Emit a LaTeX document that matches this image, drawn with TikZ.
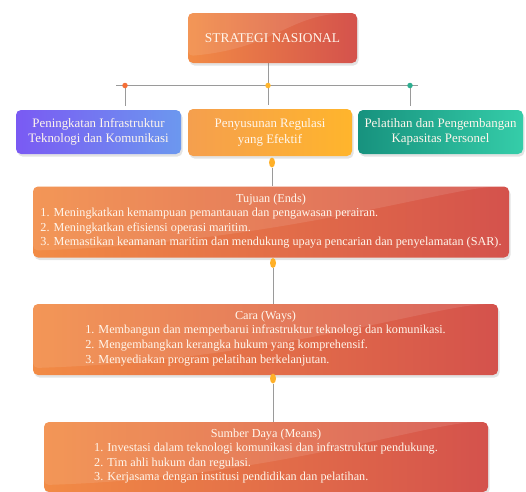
\documentclass[tikz,border=0pt]{standalone}
\usepackage{fontspec}
\setmainfont{Liberation Serif}
\usetikzlibrary{arrows.meta, positioning, shapes.geometric, calc, shadows, backgrounds}

\definecolor{orgL}{HTML}{F28B45}
\definecolor{orgR}{HTML}{D4524C}
\definecolor{purL}{HTML}{7A5AF3}
\definecolor{purR}{HTML}{6C98EF}
\definecolor{ambL}{HTML}{F59F4E}
\definecolor{ambR}{HTML}{FFB52C}
\definecolor{tealL}{HTML}{17927E}
\definecolor{tealR}{HTML}{35CDA9}
\definecolor{linkgray}{HTML}{9A9A9A}
\definecolor{paper}{HTML}{FFF6EC}

\begin{document}
\begin{tikzpicture}[
    x=1pt, y=-1pt,
    box/.style={rounded corners=5pt, text=paper, inner sep=3pt,
                align=center, font=\fontsize{12.9}{15.5}\selectfont,
                drop shadow={opacity=0.22, shadow xshift=1.5pt,
                             shadow yshift=-2.5pt}},
    gloss/.style={path picture={
        \fill[white, fill opacity=0.10]
          (path picture bounding box.north west)
          -- ([yshift=7pt]path picture bounding box.south west)
          .. controls ($(path picture bounding box.south)+(0,14pt)$)
          and ($(path picture bounding box.north east)+(-70pt,-3pt)$)
          .. ([xshift=-10pt]path picture bounding box.north east)
          -- cycle;}},
    orangebox/.style={box, gloss, left color=orgL, right color=orgR},
    listbox/.style={orangebox, font=\fontsize{12.2}{14.8}\selectfont},
    link/.style={draw=linkgray, line width=0.9pt},
    dot/.style={circle, inner sep=0pt, minimum size=5.5pt},
    pill/.style={ellipse, inner sep=0pt, minimum width=6pt,
                 minimum height=10pt, fill=ambR!90!orange}
  ]
  \useasboundingbox (0,0) rectangle (526,491);

  % strategi
  \node[orangebox, minimum width=169pt, minimum height=50pt,
        font=\fontsize{13.4}{16}\selectfont]
    (strat) at (272.5,38) {STRATEGI NASIONAL};

  % tiga pilar
  \node[box, left color=purL, right color=purR,
        minimum width=165pt, minimum height=44pt]
    (infra) at (98.5,132) {Peningkatan Infrastruktur\\Teknologi dan Komunikasi};
  \node[box, left color=ambL, right color=ambR,
        minimum width=164pt, minimum height=47pt]
    (regul) at (270,132.5) {Penyusunan Regulasi\\yang Efektif};
  \node[box, left color=tealL, right color=tealR,
        minimum width=165pt, minimum height=44pt]
    (latih) at (440.5,132) {Pelatihan dan Pengembangan\\Kapasitas Personel};

  \coordinate (barL) at (116,85.5);
  \coordinate (barR) at (418,85.5);
  \node[dot, fill=orgL!80!red] (d1) at (125,85.5) {};
  \node[dot, fill=ambR] (d2) at (268,85.5) {};
  \node[dot, fill=tealR!85!black] (d3) at (410,85.5) {};

  % ends, ways, means
  \node[listbox, minimum width=476pt, minimum height=71pt] (ends) at (271,222)
    {Tujuan (Ends)\\
     \begin{tabular}{@{}l@{}}
     1. Meningkatkan kemampuan pemantauan dan pengawasan perairan.\\
     2. Meningkatkan efisiensi operasi maritim.\\
     3. Memastikan keamanan maritim dan mendukung upaya pencarian dan penyelamatan (SAR).
     \end{tabular}};
  \node[listbox, minimum width=465pt, minimum height=71pt] (ways) at (265.5,339.5)
    {Cara (Ways)\\
     \begin{tabular}{@{}l@{}}
     1. Membangun dan memperbarui infrastruktur teknologi dan komunikasi.\\
     2. Mengembangkan kerangka hukum yang komprehensif.\\
     3. Menyediakan program pelatihan berkelanjutan.
     \end{tabular}};
  \node[listbox, minimum width=444pt, minimum height=70pt] (means) at (266,457)
    {Sumber Daya (Means)\\
     \begin{tabular}{@{}l@{}}
     1. Investasi dalam teknologi komunikasi dan infrastruktur pendukung.\\
     2. Tim ahli hukum dan regulasi.\\
     3. Kerjasama dengan institusi pendidikan dan pelatihan.
     \end{tabular}};

  \node[pill] (p1) at (272,162.5) {};
  \node[pill] (p2) at (273,263) {};
  \node[pill] (p3) at (273,378.5) {};

  \begin{scope}[on background layer]
    \draw[link] (strat.south -| d2) -- (d2);
    \draw[link] (barL) -- (barR);
    \draw[link] (d1) -- ([yshift=4pt]d1 |- infra.north);
    \draw[link] (d2) -- ([yshift=4pt]d2 |- regul.north);
    \draw[link] (d3) -- ([yshift=4pt]d3 |- latih.north);
    \draw[link] (p1) -- (p1 |- ends.north);
    \draw[link] (p2) -- (p2 |- ways.north);
    \draw[link] (p3) -- (p3 |- means.north);
  \end{scope}
\end{tikzpicture}
\end{document}
